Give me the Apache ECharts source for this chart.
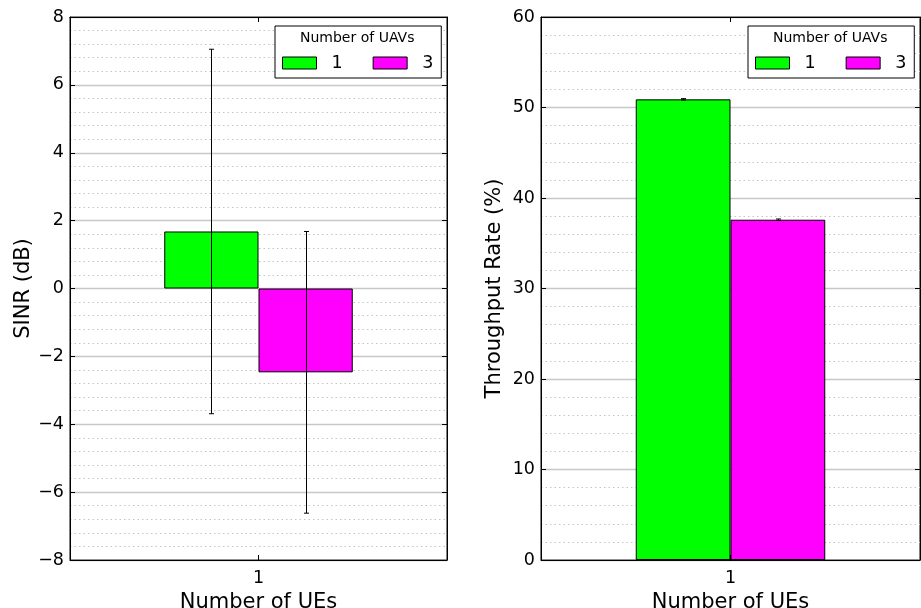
<!DOCTYPE html>
<html>
<head>
<meta charset="utf-8">
<script src="https://cdn.jsdelivr.net/npm/echarts@6/dist/echarts.min.js"></script>
<style>html,body{margin:0;padding:0;background:#fff}#c{width:921px;height:608px}</style>
</head>
<body>
<div id="c"></div>
<script>
// ---- data ----
const categories = ['1'];              // Number of UEs
const uavGroups = ['1', '3'];          // Number of UAVs
const sinrMean = [1.68, -2.47];        // SINR (dB)
const sinrErr = [5.37, 4.15];
const thrMean = [50.9, 37.6];          // Throughput Rate (%)
const thrErr = [0.08, 0.08];
const colors = ['#00ff00', '#ff00ff'];

const FONT = 'DejaVu Sans';
const fmtMinus = v => String(v).replace('-', '\u2212');

function errData(mean, err) {
  return mean.map((m, i) => [0, m - err[i], m + err[i], i]);
}

function renderErr(params, api) {
  const ci = api.value(0), lo = api.value(1), hi = api.value(2), k = api.value(3);
  const band = api.size([1, 0])[0];
  const x = Math.round(api.coord([ci, 0])[0] + (k === 0 ? -1 : 1) * band * 0.125) + 0.5;
  const yLo = api.coord([ci, lo])[1], yHi = api.coord([ci, hi])[1];
  const st = { stroke: '#000', lineWidth: 1 };
  return {
    type: 'group',
    children: [
      { type: 'line', shape: { x1: x, y1: yLo, x2: x, y2: yHi }, style: st },
      { type: 'line', shape: { x1: x - 2.5, y1: yLo, x2: x + 2.5, y2: yLo }, style: st },
      { type: 'line', shape: { x1: x - 2.5, y1: yHi, x2: x + 2.5, y2: yHi }, style: st }
    ]
  };
}

function yAxisCfg(gi, name, min, max, interval, gap) {
  return [{
    gridIndex: gi, type: 'value', min, max, interval,
    name, nameLocation: 'middle', nameGap: gap,
    nameTextStyle: { fontFamily: FONT, fontSize: 21, color: '#000' },
    axisLine: { show: true, lineStyle: { color: '#000' } },
    axisTick: { show: true, inside: true, length: 5, lineStyle: { color: '#000' } },
    axisLabel: { fontFamily: FONT, fontSize: 17.5, color: '#000', margin: 6, formatter: fmtMinus },
    splitLine: { show: true, lineStyle: { color: '#c8c8c8', width: 1.3 } },
    minorTick: { show: false, splitNumber: 5 },
    minorSplitLine: { show: true, lineStyle: { color: '#c4c4c4', type: [1.5, 3], width: 1 } }
  }, {
    gridIndex: gi, type: 'value', min, max, interval, position: 'right',
    axisLine: { show: true, lineStyle: { color: '#000' } },
    axisTick: { show: true, inside: true, length: 5, lineStyle: { color: '#000' } },
    axisLabel: { show: false }, splitLine: { show: false }
  }];
}

function xAxisCfg(gi) {
  return [{
    gridIndex: gi, type: 'category', data: categories,
    name: 'Number of UEs', nameLocation: 'middle', nameGap: 29,
    nameTextStyle: { fontFamily: FONT, fontSize: 21, color: '#000' },
    axisLine: { show: true, onZero: false, lineStyle: { color: '#000' } },
    axisTick: { show: true, inside: true, length: 5, alignWithLabel: true, lineStyle: { color: '#000' } },
    axisLabel: { fontFamily: FONT, fontSize: 17.5, color: '#000', margin: 9 },
    splitLine: { show: false }
  }, {
    gridIndex: gi, type: 'category', data: categories, position: 'top',
    axisLine: { show: true, onZero: false, lineStyle: { color: '#000' } },
    axisTick: { show: true, inside: true, length: 5, alignWithLabel: true, lineStyle: { color: '#000' } },
    axisLabel: { show: false }
  }];
}

function legendCfg(left) {
  return {
    data: uavGroups, left, top: 26, orient: 'horizontal', icon: 'rect',
    padding: [28, 8, 6, 7], itemGap: 30, itemWidth: 34, itemHeight: 12,
    borderColor: '#000', borderWidth: 1, backgroundColor: '#fff',
    selectedMode: false,
    itemStyle: { borderColor: '#000', borderWidth: 1 },
    textStyle: { fontFamily: FONT, fontSize: 17.5, color: '#000', padding: [0, 0, 0, 10] }
  };
}

function barSeries(gi, mean) {
  return uavGroups.map((g, i) => ({
    name: g, type: 'bar', xAxisIndex: gi * 2, yAxisIndex: gi * 2,
    data: [mean[i]], barWidth: '25%', barGap: '0%',
    itemStyle: { color: colors[i], borderColor: '#000', borderWidth: 1 },
    emphasis: { disabled: true }
  }));
}

const option = {
  animation: false,
  backgroundColor: '#fff',
  grid: [
    { left: 70, top: 17, width: 377, height: 543, show: true, borderColor: '#000', borderWidth: 1, outerBoundsMode: 'none', containLabel: false },
    { left: 541, top: 17, width: 379, height: 543, show: true, borderColor: '#000', borderWidth: 1, outerBoundsMode: 'none', containLabel: false }
  ],
  xAxis: [...xAxisCfg(0), ...xAxisCfg(1)],
  yAxis: [...yAxisCfg(0, 'SINR (dB)', -8, 8, 2, 36), ...yAxisCfg(1, 'Throughput Rate (%)', 0, 60, 10, 36)],
  legend: [legendCfg(275), legendCfg(748)],
  graphic: [
    { type: 'text', left: 357 - 57, top: 31, style: { text: 'Number of UAVs', font: '14px "DejaVu Sans"', fill: '#000' }, z: 100 },
    { type: 'text', left: 830 - 57, top: 31, style: { text: 'Number of UAVs', font: '14px "DejaVu Sans"', fill: '#000' }, z: 100 }
  ],
  series: [
    ...barSeries(0, sinrMean),
    { type: 'custom', xAxisIndex: 0, yAxisIndex: 0, renderItem: renderErr, data: errData(sinrMean, sinrErr), z: 10, encode: { x: 0, y: [1, 2] } },
    ...barSeries(1, thrMean),
    { type: 'custom', xAxisIndex: 2, yAxisIndex: 2, renderItem: renderErr, data: errData(thrMean, thrErr), z: 10, encode: { x: 0, y: [1, 2] } }
  ]
};

const chart = echarts.init(document.getElementById('c'), null, { renderer: 'canvas' });
chart.setOption(option);
</script>
</body>
</html>
